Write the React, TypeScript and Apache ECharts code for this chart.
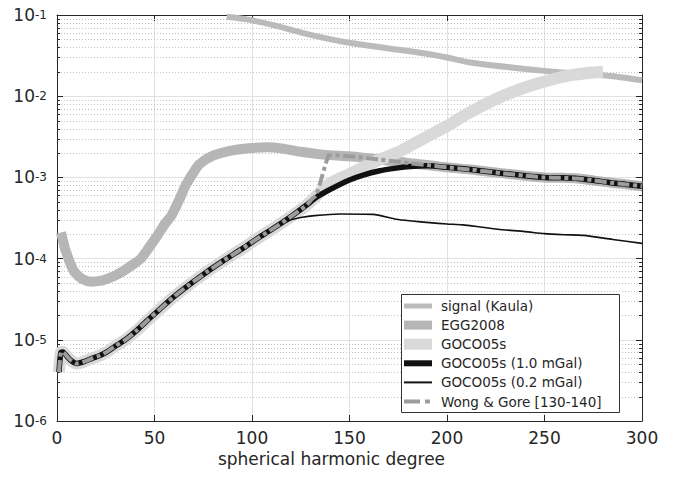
import React, { useEffect, useRef } from 'react';
import * as echarts from 'echarts';

// ---------- data ----------
const xTickValues = [0, 50, 100, 150, 200, 250, 300];
const yMin = 1e-6;
const yMax = 1e-1;
const minorMultipliers = [2, 3, 4, 5, 6, 7, 8, 9];
const decadeExponents = [-6, -5, -4, -3, -2];

// signal (Kaula)
const kaulaDeg = [87, 100, 113, 130, 150, 181, 200, 212, 250, 284, 300];
const kaulaVal = [0.095, 0.086, 0.073, 0.057, 0.0455, 0.0357, 0.03, 0.026, 0.0205, 0.0177, 0.0157];

// EGG2008
const eggDeg = [2, 3, 4, 5, 7, 9, 13, 18, 22, 27, 31, 35, 39, 43, 47, 51, 55, 59, 63, 66, 70, 73, 80, 90, 100, 108, 115, 125, 133, 140, 150, 157, 165, 174, 181, 190, 200, 212, 229, 240, 250, 258, 267, 275, 284, 292, 300];
const eggVal = [2.1e-4, 1.7e-4, 1.35e-4, 1.15e-4, 8.5e-5, 6.8e-5, 5.6e-5, 5.2e-5, 5.3e-5, 5.8e-5, 6.4e-5, 7.3e-5, 8.5e-5, 1.0e-4, 1.35e-4, 1.85e-4, 2.6e-4, 3.5e-4, 5.5e-4, 8.0e-4, 1.15e-3, 1.45e-3, 1.85e-3, 2.15e-3, 2.3e-3, 2.35e-3, 2.28e-3, 2.07e-3, 1.95e-3, 1.88e-3, 1.82e-3, 1.75e-3, 1.66e-3, 1.57e-3, 1.49e-3, 1.42e-3, 1.33e-3, 1.25e-3, 1.12e-3, 1.05e-3, 1.0e-3, 9.9e-4, 9.7e-4, 9.2e-4, 8.6e-4, 8.2e-4, 7.8e-4];

// common low-degree part (GOCO05s and the combined models coincide)
const lowDeg = [1, 2, 3, 5, 7, 10, 14, 18, 22, 26, 30, 35, 40, 46, 52, 60, 68, 77, 85, 94, 102, 111, 120, 128];
const lowVal = [4.0e-6, 7.0e-6, 7.1e-6, 6.3e-6, 5.6e-6, 5.1e-6, 5.4e-6, 5.9e-6, 6.4e-6, 7.2e-6, 8.4e-6, 1.0e-5, 1.25e-5, 1.7e-5, 2.3e-5, 3.4e-5, 4.8e-5, 6.9e-5, 9.3e-5, 1.28e-4, 1.72e-4, 2.36e-4, 3.3e-4, 4.57e-4];

// GOCO05s tail
const gocoDeg = [133, 140, 150, 165, 174, 183, 192, 200, 212, 228, 240, 250, 263, 272, 280];
const gocoVal = [5.9e-4, 8.4e-4, 1.1e-3, 1.64e-3, 2.0e-3, 2.6e-3, 3.4e-3, 4.3e-3, 6.4e-3, 9.9e-3, 1.28e-2, 1.52e-2, 1.8e-2, 1.93e-2, 2.0e-2];

// GOCO05s (1.0 mGal) tail before it joins EGG2008
const comb10Deg = [133, 140, 150, 157, 165, 174, 181, 190];
const comb10Val = [5.7e-4, 7.1e-4, 9.3e-4, 1.07e-3, 1.2e-3, 1.3e-3, 1.36e-3, 1.39e-3];

// GOCO05s (0.2 mGal) tail
const comb02Deg = [116, 120, 125, 132, 145, 162, 174, 182, 191, 200, 208, 217, 226, 240, 250, 260, 270, 285, 300];
const comb02Val = [2.7e-4, 3.0e-4, 3.2e-4, 3.38e-4, 3.54e-4, 3.5e-4, 3.05e-4, 2.9e-4, 2.77e-4, 2.67e-4, 2.6e-4, 2.45e-4, 2.3e-4, 2.15e-4, 2.03e-4, 1.97e-4, 1.93e-4, 1.72e-4, 1.54e-4];

// Wong & Gore [130-140] transition
const wongDeg = [131, 133, 139];
const wongVal = [5.5e-4, 6.1e-4, 1.82e-3];

const legendNames = [
  'signal (Kaula)',
  'EGG2008',
  'GOCO05s',
  'GOCO05s (1.0 mGal)',
  'GOCO05s (0.2 mGal)',
  'Wong & Gore [130-140]',
];

// ---------- helpers ----------
const pairs = (d: number[], v: number[]) => d.map((x, i) => [x, v[i]]);
const eggPairs = pairs(eggDeg, eggVal);
const lowPairs = pairs(lowDeg, lowVal);

const kaulaData = pairs(kaulaDeg, kaulaVal);
const gocoData = [...lowPairs, ...pairs(gocoDeg, gocoVal)];
const comb10Data = [...lowPairs, ...pairs(comb10Deg, comb10Val), ...eggPairs.filter((p) => p[0] >= 200)];
const comb02Data = [...lowPairs.filter((p) => p[0] <= 111), ...pairs(comb02Deg, comb02Val)];
const wongData = [...lowPairs, ...pairs(wongDeg, wongVal), ...eggPairs.filter((p) => p[0] >= 140)];

const minorValues: number[] = [];
decadeExponents.forEach((e) => minorMultipliers.forEach((m) => minorValues.push(m * Math.pow(10, e))));

const FONT = "'DejaVu Sans', sans-serif";
const AX = '#262626';

const C_KAULA = '#bbbbbb';
const C_EGG = '#b6b6b6';
const C_GOCO = '#d9d9d9';
const C_BLACK = '#111111';
const C_WONG = '#9c9c9c';
const WONG_DASH = [12, 3.5, 4, 3.5];

const styles = [
  { color: C_KAULA, width: 6, dash: null as number[] | null },
  { color: C_EGG, width: 10, dash: null },
  { color: C_GOCO, width: 12, dash: null },
  { color: C_BLACK, width: 5.5, dash: null },
  { color: C_BLACK, width: 1.6, dash: null },
  { color: C_WONG, width: 4, dash: WONG_DASH },
];

const lineSeries = (idx: number, data: number[][]) => ({
  type: 'line',
  name: legendNames[idx],
  data,
  symbol: 'none',
  showSymbol: false,
  smooth: 0.25,
  clip: true,
  silent: true,
  z: 3 + idx,
  lineStyle: {
    color: styles[idx].color,
    width: styles[idx].width,
    type: styles[idx].dash ? styles[idx].dash : 'solid',
    cap: 'butt',
    join: 'round',
  },
});

const logAxisBase = {
  type: 'log',
  logBase: 10,
  min: yMin,
  max: yMax,
  splitNumber: 5,
};

export default function App() {
  const ref = useRef<HTMLDivElement>(null);

  useEffect(() => {
    if (!ref.current) return;
    const chart = echarts.init(ref.current, undefined, { renderer: 'svg' });

    // legend box (drawn as graphics)
    const lgX = 401.5;
    const lgY = 294.5;
    const lgW = 218;
    const lgH = 118;
    const row0 = 306;
    const rowStep = 19.1;
    const LZ = 100;
    const legendChildren: any[] = [
      {
        type: 'rect',
        z: LZ,
        shape: { x: lgX, y: lgY, width: lgW, height: lgH },
        style: { fill: '#ffffff', stroke: '#333333', lineWidth: 1 },
      },
    ];
    const swatchDash = [16, 5, 5, 5];
    const swatchWidths = [5, 9, 11, 6, 2, 3.8];
    legendNames.forEach((n, i) => {
      const y = row0 + i * rowStep;
      const s = styles[i];
      const line: any = {
        type: 'line',
        z: LZ + 1,
        shape: { x1: 404, y1: y, x2: 432, y2: y },
        style: {
          stroke: s.color,
          lineWidth: swatchWidths[i],
          lineCap: 'butt',
        },
      };
      if (s.dash) line.style.lineDash = swatchDash;
      legendChildren.push(line);
      legendChildren.push({
        type: 'text',
        z: LZ + 1,
        x: 441,
        y,
        style: {
          text: n,
          fontSize: 13.5,
          fontFamily: FONT,
          fill: AX,
          verticalAlign: 'middle',
          align: 'left',
        },
      });
    });

    const option: any = {
      animation: false,
      backgroundColor: '#ffffff',
      grid: { left: 57, right: 36, top: 15, bottom: 56 },
      xAxis: [
        {
          type: 'value',
          min: xTickValues[0],
          max: xTickValues[xTickValues.length - 1],
          interval: xTickValues[1] - xTickValues[0],
          position: 'bottom',
          axisLine: { show: true, onZero: false, lineStyle: { color: AX, width: 1 } },
          axisTick: { show: true, inside: true, length: 6, lineStyle: { color: AX } },
          axisLabel: { fontSize: 17, fontFamily: FONT, color: AX, margin: 8 },
          splitLine: { show: true, lineStyle: { color: '#e2e2e2', width: 1 } },
          name: 'spherical harmonic degree',
          nameLocation: 'middle',
          nameGap: 17,
          nameTextStyle: { fontSize: 17, fontFamily: FONT, color: AX, padding: [0, 36, 0, 0] },
        },
        {
          type: 'value',
          min: xTickValues[0],
          max: xTickValues[xTickValues.length - 1],
          interval: xTickValues[1] - xTickValues[0],
          position: 'top',
          axisLine: { show: true, onZero: false, lineStyle: { color: AX, width: 1 } },
          axisTick: { show: true, inside: true, length: 6, lineStyle: { color: AX } },
          axisLabel: { show: false },
          splitLine: { show: false },
        },
      ],
      yAxis: [
        {
          ...logAxisBase,
          position: 'left',
          axisLine: { show: true, onZero: false, lineStyle: { color: AX, width: 1 } },
          axisTick: { show: true, inside: true, length: 6, lineStyle: { color: AX } },
          axisLabel: {
            margin: 22,
            align: 'right',
            fontSize: 17,
            fontFamily: FONT,
            color: AX,
            padding: [4, 0, 0, 0],
            formatter: () => '10',
          },
          splitLine: { show: true, lineStyle: { color: '#e2e2e2', width: 1 } },
        },
        {
          ...logAxisBase,
          position: 'right',
          axisLine: { show: true, onZero: false, lineStyle: { color: AX, width: 1 } },
          axisTick: { show: true, inside: true, length: 6, lineStyle: { color: AX } },
          axisLabel: { show: false },
          splitLine: { show: false },
        },
        {
          // exponent labels (superscripts) of the decade ticks
          ...logAxisBase,
          position: 'left',
          axisLine: { show: false },
          axisTick: { show: false },
          splitLine: { show: false },
          axisLabel: {
            margin: 22,
            align: 'left',
            fontSize: 12,
            fontFamily: FONT,
            color: AX,
            padding: [0, 0, 9, 0],
            formatter: (v: number) => `${Math.round(Math.log10(v))}`,
          },
        },
      ],
      series: [
        {
          type: 'custom',
          name: 'minor',
          silent: true,
          z: 1,
          data: minorValues.map((v) => [0, v]),
          encode: { x: 0, y: 1 },
          renderItem: (params: any, api: any) => {
            const v = api.value(1);
            const pt = api.coord([0, v]);
            const cs = params.coordSys;
            const y = Math.round(pt[1]) + 0.5;
            const x0 = cs.x;
            const x1 = cs.x + cs.width;
            return {
              type: 'group',
              children: [
                {
                  type: 'line',
                  shape: { x1: x0 + 1, y1: y, x2: x1 - 1, y2: y },
                  style: { stroke: '#c4c4c4', lineWidth: 1, lineDash: [1, 2] },
                },
                {
                  type: 'line',
                  shape: { x1: x0, y1: y, x2: x0 + 3, y2: y },
                  style: { stroke: AX, lineWidth: 1 },
                },
                {
                  type: 'line',
                  shape: { x1: x1 - 3, y1: y, x2: x1, y2: y },
                  style: { stroke: AX, lineWidth: 1 },
                },
              ],
            };
          },
        },
        lineSeries(0, kaulaData),
        lineSeries(1, eggPairs),
        lineSeries(2, gocoData),
        lineSeries(3, comb10Data),
        lineSeries(4, comb02Data),
        lineSeries(5, wongData),
      ],
      graphic: {
        elements: legendChildren,
      },
    };

    chart.setOption(option);
    return () => chart.dispose();
  }, []);

  return (
    <div
      ref={ref}
      style={{ position: 'fixed', left: 0, top: 0, width: 678, height: 477, background: '#ffffff' }}
    />
  );
}
